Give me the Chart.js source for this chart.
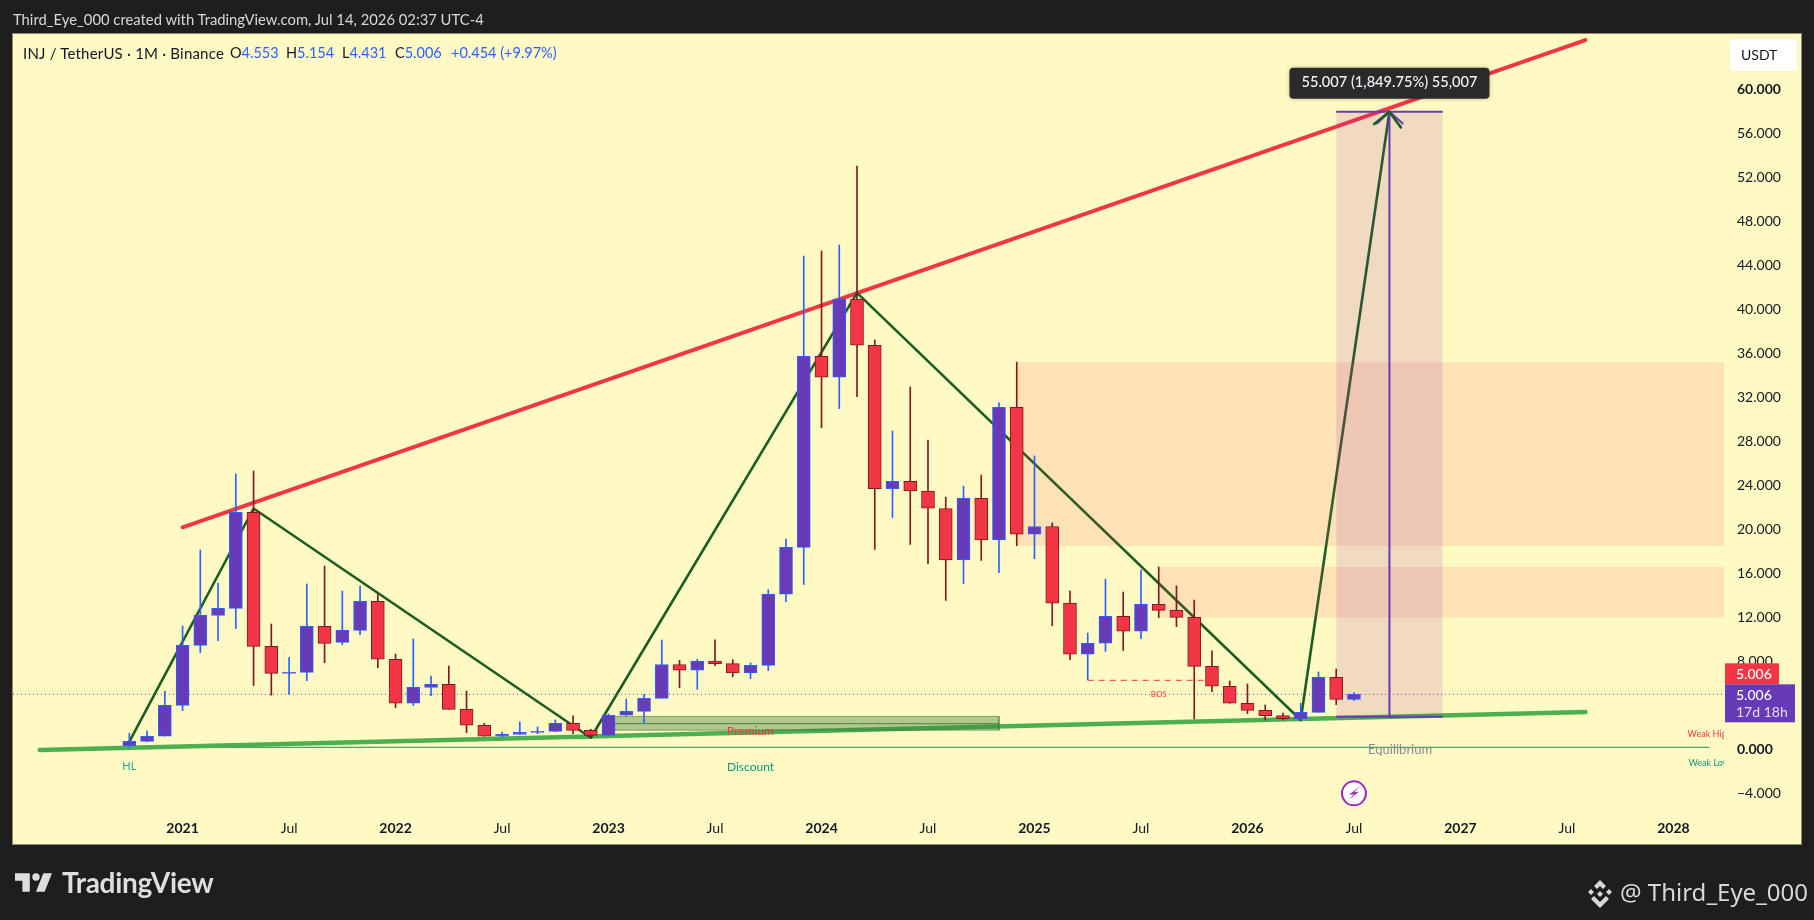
<!DOCTYPE html>
<html>
<head>
<meta charset="utf-8">
<title>INJ / TetherUS</title>
<style>
  html, body { margin: 0; padding: 0; background: #1e1e1e; overflow: hidden; }
  body { width: 1814px; height: 920px; position: relative; font-family: Lato, sans-serif; }
  canvas { position: absolute; left: 0; top: 0; }
  .abs { position: absolute; white-space: nowrap; line-height: 1; z-index: 2; }
  #credit { left: 13px; top: 12px; font-size: 14.8px; color: #d8d8d8; }
  .legend { top: 46px; font-size: 14.5px; color: #131722; }
  .legend b { font-weight: 400; color: #2962ff; }
  #pair { left: 23px; font-size: 15px; letter-spacing: 0.2px; }
  #brand { left: 62px; top: 868px; font-size: 28px; font-weight: 700; color: #dedede; letter-spacing: -0.3px; }
  #author { left: 1620px; top: 880px; font-size: 24px; color: #d8d8d8; font-family: "Noto Sans", sans-serif; }
</style>
</head>
<body>
<div id="credit" class="abs">Third_Eye_000 created with TradingView.com, Jul 14, 2026 02:37 UTC-4</div>
<div id="pair" class="abs legend">INJ / TetherUS · 1M · Binance</div>
<div class="abs legend" style="left:230px">O<b>4.553</b></div>
<div class="abs legend" style="left:286px">H<b>5.154</b></div>
<div class="abs legend" style="left:342px">L<b>4.431</b></div>
<div class="abs legend" style="left:395px">C<b>5.006</b></div>
<div class="abs legend" style="left:451px"><b>+0.454 (+9.97%)</b></div>

<svg class="abs" style="left:15px;top:873px" width="37" height="19" viewBox="2 6 30 15">
  <path fill="#dedede" d="M14 6H2v6h6v9h6V6Zm12 15h-7l6-15h7l-6 15Zm-7-9a3 3 0 1 0 0-6 3 3 0 0 0 0 6Z"/>
</svg>
<div id="brand" class="abs">TradingView</div>
<svg class="abs" style="left:1586px;top:880px" width="28" height="28" viewBox="0 0 28 28">
  <path fill="#d8d8d8" d="M14 0l6 6-3 3-3-3-3 3-3-3zM5 9l3 3-3 3-3-3zM23 9l3 3-3 3-3-3zM14 11l3 3-3 3-3-3zM8 16l3 3 3 3 3-3 3-3 3 3-9 9-9-9z"/>
</svg>
<div id="author" class="abs">@ Third_Eye_000</div>

<canvas id="chart" width="1814" height="920"></canvas>

<script src="https://cdn.jsdelivr.net/npm/chart.js@4"></script>
<script>
// ==============================
// Data
// ==============================
const months = [
  "2020-10","2020-11","2020-12",
  "2021-01","2021-02","2021-03","2021-04","2021-05","2021-06","2021-07","2021-08","2021-09","2021-10","2021-11","2021-12",
  "2022-01","2022-02","2022-03","2022-04","2022-05","2022-06","2022-07","2022-08","2022-09","2022-10","2022-11","2022-12",
  "2023-01","2023-02","2023-03","2023-04","2023-05","2023-06","2023-07","2023-08","2023-09","2023-10","2023-11","2023-12",
  "2024-01","2024-02","2024-03","2024-04","2024-05","2024-06","2024-07","2024-08","2024-09","2024-10","2024-11","2024-12",
  "2025-01","2025-02","2025-03","2025-04","2025-05","2025-06","2025-07","2025-08","2025-09","2025-10","2025-11","2025-12",
  "2026-01","2026-02","2026-03","2026-04","2026-05","2026-06","2026-07"
];
const opens = [
  0.34,0.73,1.19,
  4.0,9.46,12.19,12.82,21.55,9.37,6.91,7.0,11.19,9.73,10.82,13.46,
  8.19,4.19,5.64,5.91,3.64,2.19,1.19,1.37,1.55,1.64,2.37,1.73,
  1.28,3.1,3.45,4.64,7.72,7.2,8.02,7.79,6.94,7.64,14.1,18.37,
  35.73,33.84,40.93,36.74,23.71,24.38,23.45,21.89,17.22,22.82,19.04,31.1,
  19.56,20.26,13.29,8.65,9.65,12.1,10.74,13.19,12.64,12.0,7.55,5.74,
  4.19,3.55,3.07,2.8,3.37,6.55,4.553
];
const highs = [
  1.46,1.67,5.31,
  11.22,18.13,15.1,25.04,25.31,11.4,8.37,15.04,16.67,14.4,14.85,14.13,
  8.67,10.04,6.67,7.58,5.31,2.37,1.58,2.49,2.04,2.67,3.04,1.83,
  3.22,4.57,5.01,9.95,8.09,8.2,9.95,8.16,7.87,14.51,19.11,44.86,
  45.31,45.86,53.03,37.22,28.94,32.95,28.13,22.93,23.93,24.94,31.5,35.21,
  26.68,20.59,14.4,10.58,15.47,14.31,16.31,16.58,14.86,13.58,8.95,6.22,
  5.95,4.04,3.31,4.19,7.04,7.31,5.154
];
const lows = [
  0.19,0.7,1.19,
  3.52,8.79,9.88,10.98,5.79,4.92,4.98,6.25,7.88,9.52,10.43,7.43,
  3.79,3.98,4.88,3.64,1.52,1.19,1.15,1.34,1.43,1.61,1.43,1.07,
  1.26,3.04,2.41,4.64,5.6,5.46,7.61,6.6,6.42,7.16,13.43,15.0,
  29.24,30.98,32.06,18.18,21.08,18.63,16.88,13.54,15.07,17.18,16.07,18.52,
  17.33,11.24,8.16,6.31,8.91,8.98,10.07,11.98,11.16,2.77,5.25,4.19,
  3.25,2.67,2.67,2.67,3.37,4.07,4.431
];
const closes = [
  0.73,1.19,4.0,
  9.46,12.19,12.82,21.55,9.37,6.91,7.0,11.19,9.64,10.82,13.46,8.19,
  4.19,5.64,5.91,3.64,2.19,1.19,1.37,1.55,1.64,2.37,1.73,1.28,
  3.1,3.45,4.64,7.72,7.2,8.02,7.79,6.94,7.64,14.1,18.37,35.73,
  33.84,40.93,36.74,23.71,24.38,23.49,21.93,17.22,22.82,19.04,31.1,19.56,
  20.26,13.29,8.65,9.65,12.1,10.74,13.19,12.64,12.0,7.55,5.74,4.19,
  3.55,3.07,2.8,3.37,6.55,4.553,5.006
];

const yTickValues = [-4,0,4,8,12,16,20,24,28,32,36,40,44,48,52,56,60];
const xTickMonths = ["2021-01","2021-07","2022-01","2022-07","2023-01","2023-07","2024-01","2024-07","2025-01","2025-07","2026-01","2026-07","2027-01","2027-07","2028-01"];
const xTickLabels = ["2021","Jul","2022","Jul","2023","Jul","2024","Jul","2025","Jul","2026","Jul","2027","Jul","2028"];

const lastPrice = 5.006;
const measureLow = 2.97;
const measureHigh = 57.97;

// Drawings, [month index, price]
const zigzagPoints = [[-3,0.7],[4,21.9],[23,1.06],[38,41.5],[63,2.67],[68,57.97]];
const resistancePoints = [[0,20.19],[79.04,64.49]];
const supportPoints = [[-8.05,-0.05],[79.04,3.4]];
const equilibriumPoints = [[-3,0.19],[86,0.19]];
const bosPoints = [[51,6.28],[57.55,6.28]];
const arrowPoints = [[67.14,56.85],[68,57.97],[68.64,56.55]];
const measureArrowPoints = [[67.3,56.9],[68,57.97],[68.75,56.9]];

const upperZone = [47,87,35.2,18.52];   // from, to, top, bottom
const lowerZone = [55,87,16.58,11.98];
const premiumTop = [24,46,3.0,2.34];
const premiumLow = [24,46,2.34,1.75];

// ==============================
// Helpers
// ==============================
const X_MIN = -9.555;
const X_MAX = 86.85;
const Y_MIN = -5.33;
const Y_MAX = 65.04;

function monthIndex(label) {
  const [y, m] = label.split("-").map(Number);
  return (y - 2021) * 12 + (m - 1);
}

function lineSeries(points, color, width, order, extra) {
  return Object.assign({
    type: "line",
    data: points.map(([x, y]) => ({ x, y })),
    borderColor: color,
    borderWidth: width,
    borderCapStyle: "round",
    borderJoinStyle: "round",
    pointRadius: 0,
    tension: 0,
    fill: false,
    order: order
  }, extra || {});
}

// A box is the top edge of it, filled down to its lower price
function boxSeries(box, color, order) {
  const [from, to, top, bottom] = box;
  return lineSeries([[from, top], [to, top]], "rgba(0,0,0,0)", 0, order, {
    backgroundColor: color,
    fill: { value: bottom }
  });
}

function boxOutline(box, color, order) {
  const [from, to, top, bottom] = box;
  return lineSeries([[from, top], [to, top], [to, bottom], [from, bottom], [from, top]], color, 1, order);
}

const isUp = closes.map((c, i) => c >= opens[i]);
const UP_FILL = "#673ab7";
const UP_EDGE = "#2962ff";
const DOWN_FILL = "#f23645";
const DOWN_EDGE = "#801922";

// ==============================
// Texts placed on the chart
// ==============================
const notes = [
  { text: "HL", x: -3, y: -1.57, color: "#26a69a", size: 11 },
  { text: "Discount", x: 32, y: -1.57, color: "#089981", size: 12 },
  { text: "Premium", x: 32, y: 1.67, color: "#f23645", size: 12 },
  { text: "Equilibrium", x: 68.6, y: -0.05, color: "#878b94", size: 13 },
  { text: "BOS", x: 55, y: 5.02, color: "#f23645", size: 8 },
  { text: "Weak High", x: 84.8, y: 1.42, color: "#f23645", size: 9, align: "left" },
  { text: "Weak Low", x: 84.85, y: -1.21, color: "#089981", size: 9, align: "left" }
];

// ==============================
// Plugins
// ==============================
const paneBackground = {
  id: "paneBackground",
  beforeDraw(chart) {
    const ctx = chart.ctx;
    ctx.save();
    ctx.fillStyle = "#fff9c4";
    ctx.fillRect(13, 34, 1788, 810);
    ctx.strokeStyle = "#8e8c6e";
    ctx.lineWidth = 1;
    ctx.strokeRect(12.5, 33.5, 1789, 811);
    ctx.restore();
  }
};

function roundBox(ctx, x, y, w, h, r, fill) {
  ctx.beginPath();
  ctx.roundRect(x, y, w, h, r);
  ctx.fillStyle = fill;
  ctx.fill();
}

const chartLabels = {
  id: "chartLabels",
  afterDraw(chart) {
    const ctx = chart.ctx;
    const xs = chart.scales.x;
    const ys = chart.scales.y;
    const area = chart.chartArea;

    // notes, clipped to the pane
    ctx.save();
    ctx.beginPath();
    ctx.rect(area.left, area.top, area.width, area.height);
    ctx.clip();
    ctx.textBaseline = "middle";
    notes.forEach((n) => {
      ctx.font = n.size + "px Lato";
      ctx.fillStyle = n.color;
      ctx.textAlign = n.align || "center";
      ctx.fillText(n.text, xs.getPixelForValue(n.x), ys.getPixelForValue(n.y));
    });
    ctx.restore();

    ctx.save();
    ctx.textBaseline = "middle";

    // measure tooltip
    const tipX = xs.getPixelForValue(68);
    const tipY = ys.getPixelForValue(measureHigh);
    ctx.shadowColor = "rgba(0,0,0,0.25)";
    ctx.shadowBlur = 5;
    roundBox(ctx, tipX - 100, tipY - 44, 200, 31, 4, "#2a2a2a");
    ctx.shadowBlur = 0;
    ctx.font = "500 14.6px Lato";
    ctx.fillStyle = "#f0f3fa";
    ctx.textAlign = "center";
    ctx.fillText("55.007 (1,849.75%) 55,007", tipX, tipY - 29);

    // lightning badge under the last bars
    const bx = xs.getPixelForValue(66);
    const by = ys.getPixelForValue(-4);
    ctx.beginPath();
    ctx.arc(bx, by, 13.5, 0, Math.PI * 2);
    ctx.fillStyle = "#ffffff";
    ctx.fill();
    ctx.lineWidth = 2;
    ctx.strokeStyle = "#9c27b0";
    ctx.beginPath();
    ctx.arc(bx, by, 12, 0, Math.PI * 2);
    ctx.stroke();
    ctx.beginPath();
    ctx.moveTo(bx + 6, by - 7);
    ctx.lineTo(bx - 5, by + 1.5);
    ctx.lineTo(bx, by + 1);
    ctx.lineTo(bx - 6, by + 7);
    ctx.lineTo(bx + 5, by - 1.5);
    ctx.lineTo(bx, by - 1);
    ctx.closePath();
    ctx.fillStyle = "#9c27b0";
    ctx.fill();

    // currency button
    ctx.shadowColor = "rgba(0,0,0,0.08)";
    ctx.shadowBlur = 2;
    roundBox(ctx, 1730, 39, 67, 32, 3, "#ffffff");
    ctx.shadowBlur = 0;
    ctx.font = "14px Lato";
    ctx.fillStyle = "#131722";
    ctx.textAlign = "left";
    ctx.fillText("USDT", 1741, 55);

    // last price tags
    const py = ys.getPixelForValue(lastPrice);
    ctx.fillStyle = "#f23645";
    ctx.fillRect(1725, py - 31, 54, 21);
    ctx.fillStyle = "#673ab7";
    ctx.fillRect(1725, py - 10, 70, 38);
    ctx.font = "500 14px Lato";
    ctx.fillStyle = "#ffffff";
    ctx.fillText("5.006", 1736, py - 20);
    ctx.fillText("5.006", 1736, py + 1);
    ctx.font = "14px Lato";
    ctx.fillStyle = "#e3dcf2";
    ctx.fillText("17d 18h", 1736, py + 18);
    ctx.restore();
  }
};

// ==============================
// Chart
// ==============================
const candleX = months.map(monthIndex);

const datasets = [
  // candles on top of every drawing
  {
    type: "bar",
    data: candleX.map((x, i) => ({ x, y: [opens[i], closes[i]] })),
    backgroundColor: isUp.map((u) => (u ? UP_FILL : DOWN_FILL)),
    borderColor: isUp.map((u) => (u ? UP_EDGE : DOWN_EDGE)),
    borderWidth: 1,
    borderSkipped: false,
    barThickness: 13,
    grouped: false,
    order: 1
  },
  {
    type: "bar",
    data: candleX.map((x, i) => ({ x, y: [lows[i], highs[i]] })),
    backgroundColor: isUp.map((u) => (u ? UP_EDGE : DOWN_EDGE)),
    borderWidth: 0,
    barThickness: 1,
    grouped: false,
    order: 2
  },
  lineSeries(arrowPoints, "#1b5e20", 2.6, 3),
  lineSeries(measureArrowPoints, "#673ab7", 2, 4),
  lineSeries([[68, measureLow], [68, measureHigh]], "#673ab7", 2, 5, { borderCapStyle: "butt" }),
  lineSeries([[65, measureHigh], [71, measureHigh]], "#673ab7", 2, 5, { borderCapStyle: "butt" }),
  lineSeries([[65, measureLow], [71, measureLow]], "#673ab7", 2, 5, { borderCapStyle: "butt" }),
  boxSeries([65, 71, measureHigh, measureLow], "rgba(156,39,176,0.15)", 6),
  boxOutline(premiumTop, "rgba(62,126,56,0.6)", 7),
  boxOutline(premiumLow, "rgba(62,126,56,0.6)", 7),
  boxSeries(premiumTop, "rgba(62,126,56,0.4)", 8),
  boxSeries(premiumLow, "rgba(62,126,56,0.4)", 8),
  boxSeries(upperZone, "rgba(242,80,90,0.13)", 9),
  boxSeries(lowerZone, "rgba(242,80,90,0.13)", 9),
  lineSeries(zigzagPoints, "#1b5e20", 2.6, 10),
  lineSeries(resistancePoints, "#f23645", 4, 11),
  lineSeries(supportPoints, "#4caf50", 4.5, 11),
  lineSeries(equilibriumPoints, "#1b8a5a", 1, 12),
  lineSeries(bosPoints, "#f23645", 1, 12, { borderDash: [6, 5], borderCapStyle: "butt" }),
  lineSeries([[X_MIN, lastPrice], [X_MAX, lastPrice]], "#673ab7", 1, 13, { borderDash: [1, 3], borderCapStyle: "butt" })
];

Chart.defaults.font.family = "Lato";

new Chart(document.getElementById("chart"), {
  type: "bar",
  data: { datasets },
  options: {
    responsive: false,
    animation: false,
    devicePixelRatio: 1,
    events: [],
    layout: { padding: { left: 13, top: 34, right: 0, bottom: 0 } },
    plugins: { legend: { display: false }, tooltip: { enabled: false } },
    scales: {
      x: {
        type: "linear",
        min: X_MIN,
        max: X_MAX,
        offset: false,
        grid: { display: false },
        border: { display: false },
        afterBuildTicks(axis) {
          axis.ticks = xTickMonths.map((m) => ({ value: monthIndex(m) }));
        },
        afterFit(axis) {
          axis.height = 112;
        },
        ticks: {
          autoSkip: false,
          maxRotation: 0,
          padding: 4,
          color: "#131722",
          font: (ctx) => ({ size: 14, weight: ctx.index % 2 === 0 ? "700" : "400" }),
          callback: (value, index) => xTickLabels[index]
        }
      },
      y: {
        type: "linear",
        position: "right",
        min: Y_MIN,
        max: Y_MAX,
        grid: { display: false },
        border: { display: false },
        afterBuildTicks(axis) {
          axis.ticks = yTickValues.map((v) => ({ value: v }));
        },
        afterFit(axis) {
          axis.width = 90;
        },
        ticks: {
          autoSkip: false,
          crossAlign: "near",
          padding: 5,
          color: "#131722",
          font: (ctx) => ({ size: 14, weight: ctx.tick && (ctx.tick.value === 60 || ctx.tick.value === 0) ? "700" : "400" }),
          callback: (value) => value.toFixed(3).replace("-", "\u2212")
        }
      }
    }
  },
  plugins: [paneBackground, chartLabels]
});
</script>
</body>
</html>
